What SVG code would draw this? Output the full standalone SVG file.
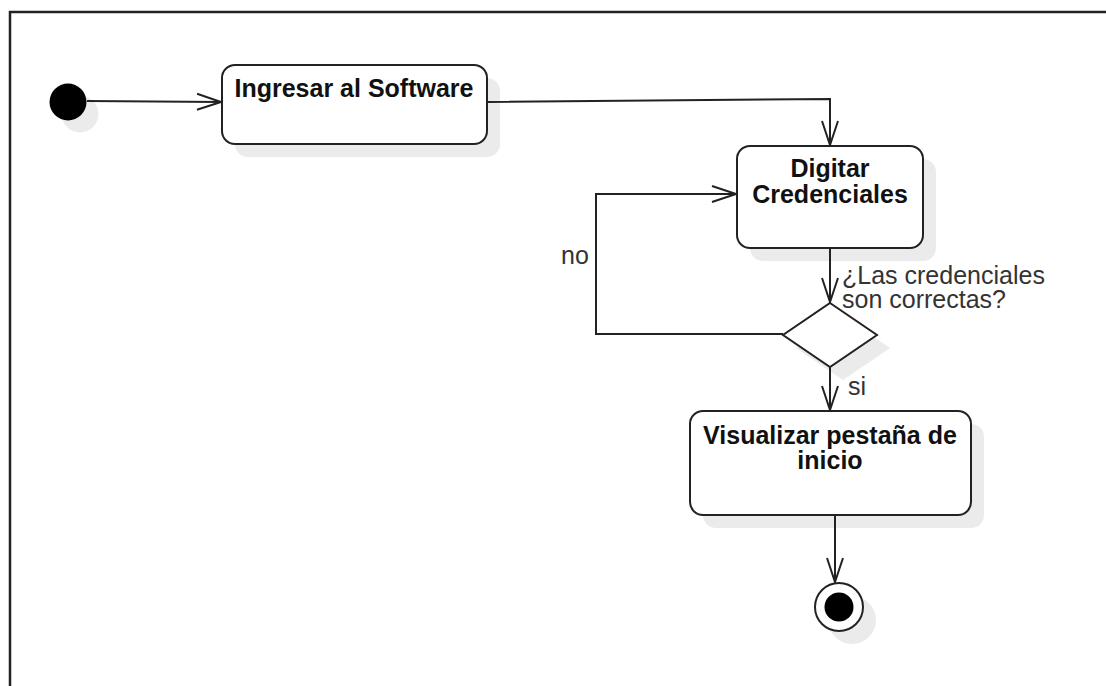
<svg xmlns="http://www.w3.org/2000/svg" width="1106" height="686" viewBox="0 0 1106 686">
<style>
.box{fill:#fff;stroke:#222;stroke-width:2}
.sh{fill:#ebebeb}
.ln{fill:none;stroke:#222;stroke-width:2}
.bt{font-family:"Liberation Sans",Arial,sans-serif;font-weight:bold;font-size:25px;fill:#111;text-anchor:middle}
.lt{font-family:"Liberation Sans",Arial,sans-serif;font-size:25px;fill:#333}
</style>
<defs>
<marker id="arr" viewBox="0 0 26 20" refX="25" refY="10" markerWidth="26" markerHeight="20" markerUnits="userSpaceOnUse" orient="auto">
<path d="M1,2 L25,10 L1,18" fill="none" stroke="#222" stroke-width="2"/>
</marker>
</defs>
<rect x="0" y="0" width="1106" height="686" fill="#fff"/>
<path d="M10,686 L10,12 L1106,12" fill="none" stroke="#222" stroke-width="2.5"/>
<g id="start">
<circle class="sh" cx="80" cy="114" r="18.5"/>
<circle cx="68" cy="102" r="18.5" fill="#000"/>
</g>
<g id="ingresar">
<rect class="sh" x="235" y="78" width="265" height="79" rx="13"/>
<rect class="box" x="222" y="65" width="265" height="79" rx="13"/>
<text class="bt" x="354" y="97">Ingresar al Software</text>
</g>
<g id="digitar">
<rect class="sh" x="750" y="159" width="186" height="102" rx="13"/>
<rect class="box" x="737" y="146" width="186" height="102" rx="13"/>
<text class="bt" x="830" y="177">Digitar</text>
<text class="bt" x="830" y="203">Credenciales</text>
</g>
<g id="decision">
<polygon class="sh" points="843,316 890,348 843,380 796,348"/>
<polygon class="box" points="830,303 877,335 830,367 783,335"/>
</g>
<g id="visualizar">
<rect class="sh" x="703" y="424" width="281" height="104" rx="13"/>
<rect class="box" x="690" y="411" width="281" height="104" rx="13"/>
<text class="bt" x="830" y="444">Visualizar pestaña de</text>
<text class="bt" x="830" y="469">inicio</text>
</g>
<g id="end">
<circle class="sh" cx="852" cy="620" r="24"/>
<circle cx="839" cy="607" r="24" fill="#fff" stroke="#222" stroke-width="2"/>
<circle cx="839" cy="607" r="14.5" fill="#000"/>
</g>
<g id="connectors">
<path class="ln" d="M87,101 L221,102" marker-end="url(#arr)"/>
<path class="ln" d="M487,102 L830,99 L830,145" marker-end="url(#arr)"/>
<path class="ln" d="M830,248 L830,302" marker-end="url(#arr)"/>
<path class="ln" d="M783,334 L596,334 L596,194 L736,194" marker-end="url(#arr)"/>
<path class="ln" d="M830,367 L830,410" marker-end="url(#arr)"/>
<path class="ln" d="M835,515 L835,582" marker-end="url(#arr)"/>
<text class="lt" x="842" y="284">¿Las credenciales</text>
<text class="lt" x="842" y="308">son correctas?</text>
<text class="lt" x="561" y="264">no</text>
<text class="lt" x="848" y="395">si</text>
</g>
</svg>
